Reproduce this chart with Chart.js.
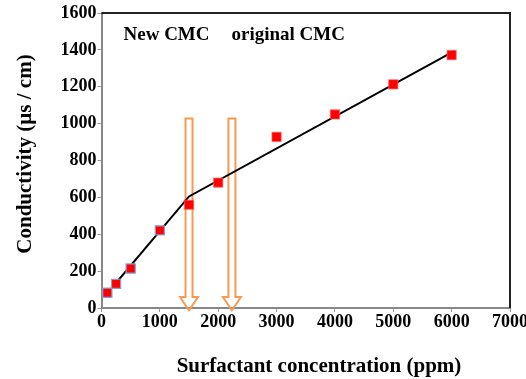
<!DOCTYPE html>
<html>
<head>
<meta charset="utf-8">
<script src="https://cdn.jsdelivr.net/npm/chart.js@4/dist/chart.umd.min.js"></script>
<style>
  html, body { margin: 0; padding: 0; background: #fff; }
  #wrap { width: 526px; height: 379px; position: relative; }
</style>
</head>
<body>
<div id="wrap"><canvas id="c" width="526" height="379"></canvas></div>
<script>
// ---- data ----
const concentration = [100, 250, 500, 1000, 1500, 2000, 3000, 4000, 5000, 6000];
const conductivity  = [83, 131, 214, 421, 560, 680, 928, 1050, 1213, 1372];
const fitX = [100, 1500, 6050];
const fitY = [80, 605, 1395];
const arrowX = [1500, 2235];
const arrowTop = [1028, 1028];
const arrowHeadTop = 60;
const arrowTip = -12;
const xTicks = [0, 1000, 2000, 3000, 4000, 5000, 6000, 7000];
const yTicks = [0, 200, 400, 600, 800, 1000, 1200, 1400, 1600];
const labelNew = 'New CMC';
const labelOrig = 'original CMC';
const xTitle = 'Surfactant concentration (ppm)';
const yTitle = 'Conductivity (\u00b5s / cm)';

const SERIF = '"Liberation Serif", "Times New Roman", serif';
const ORANGE = '#F79A52';

const points = concentration.map((x, i) => ({ x, y: conductivity[i] }));
const fit = fitX.map((x, i) => ({ x, y: fitY[i] }));
const pointBorders = concentration.map((x, i) => i < 4 ? '#7FA6D8' : 'rgba(255,90,90,0.6)');

const overlay = {
  id: 'overlay',
  beforeDatasetsDraw(chart) {
    const ctx = chart.ctx, xs = chart.scales.x, ys = chart.scales.y;
    ctx.save();
    ctx.strokeStyle = ORANGE;
    ctx.lineWidth = 2;
    ctx.lineJoin = 'miter';
    arrowX.forEach((v, i) => {
      const cx = xs.getPixelForValue(v);
      const top = ys.getPixelForValue(arrowTop[i]);
      const hTop = ys.getPixelForValue(arrowHeadTop);
      const tip = ys.getPixelForValue(arrowTip);
      const sw = 3.5, hw = 9;
      ctx.beginPath();
      ctx.moveTo(cx - sw, hTop);
      ctx.lineTo(cx - sw, top);
      ctx.lineTo(cx + sw, top);
      ctx.lineTo(cx + sw, hTop);
      ctx.lineTo(cx + hw, hTop);
      ctx.lineTo(cx, tip);
      ctx.lineTo(cx - hw, hTop);
      ctx.closePath();
      ctx.stroke();
    });
    ctx.restore();
  },
  afterDraw(chart) {
    const ctx = chart.ctx, a = chart.chartArea;
    ctx.save();
    // top and right frame
    ctx.strokeStyle = '#222';
    ctx.lineWidth = 2;
    ctx.beginPath();
    ctx.moveTo(a.left, a.top);
    ctx.lineTo(a.right, a.top);
    ctx.lineTo(a.right, a.bottom);
    ctx.stroke();
    // in-plot labels
    ctx.fillStyle = '#000';
    ctx.font = 'bold 19px ' + SERIF;
    ctx.textBaseline = 'alphabetic';
    ctx.textAlign = 'left';
    ctx.fillText(labelNew, a.left + 22, 40);
    ctx.fillText(labelOrig, a.left + 130, 40);
    // axis titles
    ctx.font = 'bold 21px ' + SERIF;
    ctx.textAlign = 'center';
    ctx.fillText(xTitle, 319, 372);
    ctx.translate(31, 154);
    ctx.rotate(-Math.PI / 2);
    ctx.fillText(yTitle, 0, 0);
    ctx.restore();
  }
};

new Chart(document.getElementById('c'), {
  type: 'scatter',
  data: {
    datasets: [
      {
        type: 'line',
        label: 'fit',
        data: fit,
        borderColor: '#000',
        borderWidth: 2,
        pointRadius: 0,
        fill: false,
        tension: 0,
        order: 2
      },
      {
        label: 'Conductivity',
        data: points,
        pointStyle: 'rect',
        pointRadius: 6.5,
        pointHoverRadius: 6.5,
        backgroundColor: '#FF0000',
        borderColor: pointBorders,
        borderWidth: 1.2,
        order: 1
      }
    ]
  },
  options: {
    responsive: false,
    animation: false,
    events: [],
    layout: { padding: { top: 13, right: 16, left: 0, bottom: 0 } },
    plugins: { legend: { display: false }, tooltip: { enabled: false } },
    scales: {
      x: {
        type: 'linear',
        min: 0, max: 7000,
        afterBuildTicks(s) { s.ticks = xTicks.map(v => ({ value: v })); },
        afterFit(s) { s.height = 71; s.paddingRight = 16; },
        grid: { display: true, drawOnChartArea: false, drawTicks: true, tickLength: 4, color: '#999', lineWidth: 1 },
        border: { display: true, color: '#888', width: 2 },
        ticks: { color: '#000', font: { family: SERIF, size: 18, weight: 'bold' }, padding: 0, maxRotation: 0, autoSkip: false, callback: v => String(v) }
      },
      y: {
        type: 'linear',
        min: 0, max: 1600,
        afterBuildTicks(s) { s.ticks = yTicks.map(v => ({ value: v })); },
        afterFit(s) { s.width = 101.5; },
        grid: { display: true, drawOnChartArea: false, drawTicks: true, tickLength: 4, color: '#999', lineWidth: 1 },
        border: { display: true, color: '#888', width: 2 },
        ticks: { color: '#000', font: { family: SERIF, size: 18, weight: 'bold' }, padding: 1, autoSkip: false, callback: v => String(v) }
      }
    }
  },
  plugins: [overlay]
});
</script>
</body>
</html>
